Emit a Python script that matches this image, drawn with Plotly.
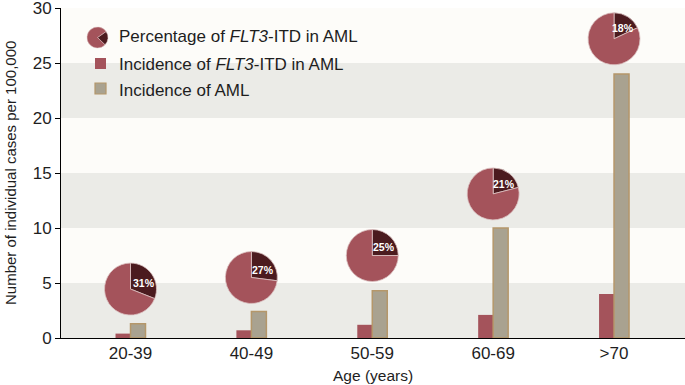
import math
import plotly.graph_objects as go

# ---------------- data ----------------
age_groups = ["20-39", "40-49", "50-59", "60-69", ">70"]
incidence_flt3 = [0.4, 0.7, 1.2, 2.1, 4.0]
incidence_aml = [1.3, 2.4, 4.3, 10.0, 24.0]
flt3_percent = [31, 27, 25, 21, 18]
pie_level = [4.45, 5.5, 7.5, 13.1, 27.2]   # y position (cases per 100,000) of each pie centre
y_ticks = [0, 5, 10, 15, 20, 25, 30]

# ---------------- style ----------------
W, H = 685, 385
ML, MR, MT, MB = 61, 0, 8, 47
PW, PH = W - ML - MR, H - MT - MB
XMIN, XMAX = -0.575, 4.587
YMIN, YMAX = 0, 30
RED = "#a4535b"
DARK = "#4b1b1f"
GREY_FILL = "#a9a290"
GREY_LINE = "#b5976a"
BAND = "#ebebe7"
BG = "#fdfcf9"
FONT = "Arial, Liberation Sans, sans-serif"
TXT = "#1e1e1e"
PIE_R = 26
BAR_W = 0.124


def px_to_paper(px, py):
    return (px - ML) / PW, (MT + PH - py) / PH


fig = go.Figure()

# bars
fig.add_trace(go.Bar(
    x=age_groups, y=incidence_flt3, width=BAR_W, offset=-BAR_W,
    marker=dict(color=RED, line=dict(width=0)), showlegend=False,
))
fig.add_trace(go.Bar(
    x=age_groups, y=incidence_aml, width=BAR_W, offset=0,
    marker=dict(color=GREY_FILL, line=dict(color=GREY_LINE, width=1.5)), showlegend=False,
))

# pies positioned at (category, level) through the axis mapping
annotations = []
for i, (pct, lvl) in enumerate(zip(flt3_percent, pie_level)):
    fx = (i - XMIN) / (XMAX - XMIN)
    fy = (lvl - YMIN) / (YMAX - YMIN)
    dx, dy = PIE_R / PW, PIE_R / PH
    fig.add_trace(go.Pie(
        values=[pct, 100 - pct], sort=False, direction="clockwise", rotation=0,
        marker=dict(colors=[DARK, RED], line=dict(color="#dcc3c3", width=0.8)),
        textinfo="none", hoverinfo="skip", showlegend=False,
        domain=dict(x=[fx - dx, fx + dx], y=[fy - dy, fy + dy]),
    ))
    ang = math.radians(pct / 100 * 180 + 8)
    annotations.append(dict(
        x=age_groups[i], y=lvl, xref="x", yref="y", text=f"<b>{pct}%</b>",
        showarrow=False, font=dict(family=FONT, size=10.5, color="white"),
        xshift=14.5 * math.sin(ang), yshift=14.5 * math.cos(ang),
        xanchor="center", yanchor="middle",
    ))

# ---------------- custom legend ----------------
lx, ly = px_to_paper(97.5, 37.5)
lr = 10.5
fig.add_trace(go.Pie(
    values=[22, 78], sort=False, direction="clockwise", rotation=55,
    marker=dict(colors=[DARK, RED], line=dict(color="#dcc3c3", width=0.5)),
    textinfo="none", hoverinfo="skip", showlegend=False,
    domain=dict(x=[lx - lr / PW, lx + lr / PW], y=[ly - lr / PH, ly + lr / PH]),
))

shapes = []
# background bands
for k in range(0, len(y_ticks) - 1, 2):
    shapes.append(dict(type="rect", xref="paper", yref="y", x0=0, x1=1,
                       y0=y_ticks[k], y1=y_ticks[k + 1], fillcolor=BAND,
                       line=dict(width=0), layer="below"))

def px_rect(x0, y0, x1, y1, fill, line_color=None, line_w=0):
    a = px_to_paper(x0, y0)
    b = px_to_paper(x1, y1)
    return dict(type="rect", xref="paper", yref="paper", x0=a[0], y0=b[1], x1=b[0], y1=a[1],
                fillcolor=fill, line=dict(color=line_color or fill, width=line_w), layer="above")

shapes.append(px_rect(95, 58, 106, 69, RED))
shapes.append(px_rect(95, 83, 106, 94, GREY_FILL, GREY_LINE, 1.2))

legend_items = [
    ("Percentage of <i>FLT3</i>-ITD in AML", 36.7),
    ("Incidence of <i>FLT3</i>-ITD in AML", 64.5),
    ("Incidence of AML", 90.5),
]
for txt, yy in legend_items:
    ax, ay = px_to_paper(116.5, yy)
    annotations.append(dict(x=ax, y=ay, xref="paper", yref="paper", text=txt, showarrow=False,
                            xanchor="left", yanchor="middle",
                            font=dict(family=FONT, size=17, color=TXT)))

# axis titles
tx, ty = px_to_paper(10, 173)
annotations.append(dict(x=tx, y=ty, xref="paper", yref="paper",
                        text="Number of individual cases per 100,000", textangle=-90,
                        showarrow=False, xanchor="center", yanchor="middle",
                        font=dict(family=FONT, size=15, color=TXT)))
tx, ty = px_to_paper(373, 375)
annotations.append(dict(x=tx, y=ty, xref="paper", yref="paper", text="Age (years)",
                        showarrow=False, xanchor="center", yanchor="middle",
                        font=dict(family=FONT, size=15.5, color=TXT)))

fig.update_layout(
    width=W, height=H,
    margin=dict(l=ML, r=MR, t=MT, b=MB, pad=0),
    paper_bgcolor="white", plot_bgcolor=BG,
    font=dict(family=FONT, color=TXT),
    shapes=shapes, annotations=annotations,
    showlegend=False,
    xaxis=dict(type="category", categoryorder="array", categoryarray=age_groups,
               range=[XMIN, XMAX], showline=True, linecolor="black", linewidth=1,
               ticks="", showgrid=False, zeroline=False,
               tickfont=dict(family=FONT, size=17, color=TXT)),
    yaxis=dict(range=[YMIN, YMAX], tickmode="array", tickvals=y_ticks,
               ticktext=[str(t) for t in y_ticks], ticks="outside", ticklen=5,
               tickwidth=1, tickcolor="black", showline=True, linecolor="black",
               linewidth=1, showgrid=False, zeroline=False, ticklabeloverflow="allow",
               tickfont=dict(family=FONT, size=17, color=TXT)),
)

fig.write_html("out.html", config={"displayModeBar": False},
               post_script="document.body.style.margin='0';document.body.style.padding='0';")
